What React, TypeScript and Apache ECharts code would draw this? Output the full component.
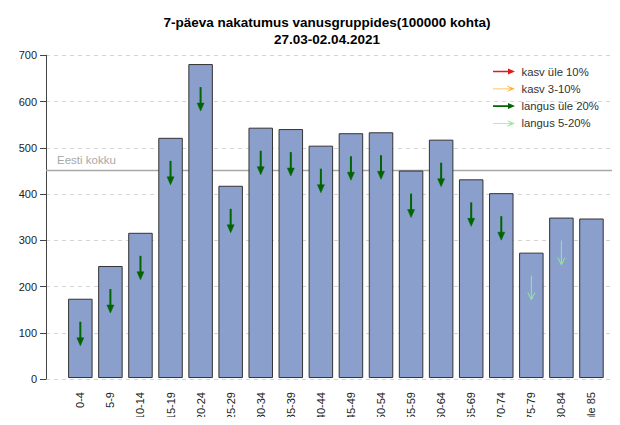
import React, { useEffect, useRef } from "react";
import * as echarts from "echarts";

const ageGroups = ["0-4", "5-9", "10-14", "15-19", "20-24", "25-29", "30-34", "35-39", "40-44", "45-49", "50-54", "55-59", "60-64", "65-69", "70-74", "75-79", "80-84", "üle 85"];
const incidence = [172, 243, 315, 521, 681, 417, 543, 540, 504, 531, 533, 450, 517, 431, 401, 272, 348, 346];
// trend class per age group: "up10", "up3", "down20", "down5", "" (none)
const trends = ["down20", "down20", "down20", "down20", "down20", "down20", "down20", "down20", "down20", "down20", "down20", "down20", "down20", "down20", "down20", "down5", "down5", ""];
const estoniaTotal = 451;
const trendClasses = [
  { key: "up10", name: "kasv üle 10%", color: "#e31a1c", thick: true },
  { key: "up3", name: "kasv 3-10%", color: "#ffb23a", thick: false },
  { key: "down20", name: "langus üle 20%", color: "#006400", thick: true },
  { key: "down5", name: "langus 5-20%", color: "#90ee90", thick: false },
];

const FONT = "Liberation Sans, Arial, sans-serif";
const THICK_ICON = "path://M0,2.2L15,2.2L15,0L22,3L15,6L15,3.8L0,3.8Z";
const THIN_ICON = "path://M0,2.6L17.5,2.6L14,0.4L14.5,0L22,3L14.5,6L14,5.6L17.5,3.4L0,3.4Z";

export default function App() {
  const ref = useRef<HTMLDivElement>(null);
  useEffect(() => {
    if (!ref.current) return;
    const chart = echarts.init(ref.current, undefined, { renderer: "svg" });

    const arrowSeries = trendClasses.map((tc) => ({
      type: "custom",
      name: tc.name,
      xAxisIndex: 1,
      yAxisIndex: 1,
      itemStyle: { color: tc.color },
      data: incidence
        .map((v, i) => (trends[i] === tc.key ? [i, v] : null))
        .filter((d) => d !== null),
      renderItem: (params: any, api: any) => {
        const x = api.value(0);
        const v = api.value(1);
        const s = api.coord([x, v - 50]);
        const e = api.coord([x, v - 102]);
        const head = tc.thick ? 8 : 7;
        const hw = 3.5;
        const children: any[] = [];
        if (tc.thick) {
          children.push({
            type: "line",
            shape: { x1: s[0], y1: s[1], x2: e[0], y2: e[1] - head + 1 },
            style: { stroke: tc.color, lineWidth: 2 },
          });
          children.push({
            type: "polygon",
            shape: { points: [[e[0] - hw, e[1] - head], [e[0] + hw, e[1] - head], [e[0], e[1]]] },
            style: { fill: tc.color, stroke: tc.color, lineWidth: 0.5 },
          });
        } else {
          children.push({
            type: "line",
            shape: { x1: s[0], y1: s[1], x2: e[0], y2: e[1] },
            style: { stroke: tc.color, lineWidth: 1 },
          });
          children.push({
            type: "polyline",
            shape: { points: [[e[0] - hw, e[1] - head], [e[0], e[1]], [e[0] + hw, e[1] - head]] },
            style: { stroke: tc.color, lineWidth: 1, fill: null },
          });
        }
        return { type: "group", children };
      },
    }));

    const option: any = {
      animation: false,
      backgroundColor: "#ffffff",
      textStyle: { fontFamily: FONT },
      title: {
        text: "7-päeva nakatumus vanusgruppides(100000 kohta)\n27.03-02.04.2021",
        left: 322,
        top: 9,
        textAlign: "center",
        textStyle: { fontFamily: FONT, fontSize: 13.5, fontWeight: "bold", color: "#000", lineHeight: 17 },
      },
      legend: {
        orient: "vertical",
        left: 488,
        top: 61,
        itemWidth: 23,
        itemHeight: 6,
        itemGap: 6.3,
        textStyle: { fontFamily: FONT, fontSize: 11.3, color: "#333", padding: [0, 0, 0, 1] },
        data: trendClasses.map((tc) => ({ name: tc.name, icon: tc.thick ? THICK_ICON : THIN_ICON })),
        selectedMode: false,
      },
      grid: [
        { left: 46, right: 0, top: 55.3, bottom: 46 },
        { left: 65.3, right: 13.5, top: 55.3, bottom: 46 },
      ],
      xAxis: [
        { type: "value", gridIndex: 0, min: 0, max: 1, show: false },
        {
          type: "category",
          gridIndex: 1,
          data: ageGroups,
          axisLine: { show: false },
          axisTick: { show: false },
          axisLabel: { rotate: 90, margin: 14, fontSize: 11, color: "#222", fontFamily: FONT, interval: 0 },
        },
      ],
      yAxis: [
        {
          type: "value",
          gridIndex: 0,
          min: 0,
          max: 700,
          interval: 100,
          axisLine: { show: true, lineStyle: { color: "#444", width: 1 } },
          axisTick: { show: true, length: 6, lineStyle: { color: "#444" } },
          axisLabel: { fontSize: 11, color: "#222", margin: 9, fontFamily: FONT },
          splitLine: { show: true, lineStyle: { color: "#d4d4d4", type: [4, 4], width: 1 } },
        },
        { type: "value", gridIndex: 1, min: 0, max: 700, show: false },
      ],
      series: [
        {
          type: "line",
          name: "Eesti kokku",
          xAxisIndex: 0,
          yAxisIndex: 0,
          symbol: "circle",
          symbolSize: 0,
          showSymbol: true,
          lineStyle: { color: "#a8a8a8", width: 1.5 },
          z: 1,
          data: [
            {
              value: [0, estoniaTotal],
              label: {
                show: true,
                formatter: "Eesti kokku",
                position: "top",
                align: "left",
                offset: [11, 1],
                fontSize: 11.5,
                color: "#a8a8a8",
                fontFamily: FONT,
              },
            },
            { value: [1, estoniaTotal], label: { show: false } },
          ],
        },
        {
          type: "bar",
          name: "nakatumus",
          xAxisIndex: 1,
          yAxisIndex: 1,
          barWidth: 24.5,
          z: 2,
          itemStyle: { color: "#8b9fcc", borderColor: "#333", borderWidth: 1 },
          data: incidence,
        },
        ...arrowSeries.map((s) => ({ ...s, z: 5 })),
      ],
    };
    chart.setOption(option);
    return () => chart.dispose();
  }, []);
  return <div ref={ref} style={{ width: 620, height: 425, margin: -8 }} />;
}
